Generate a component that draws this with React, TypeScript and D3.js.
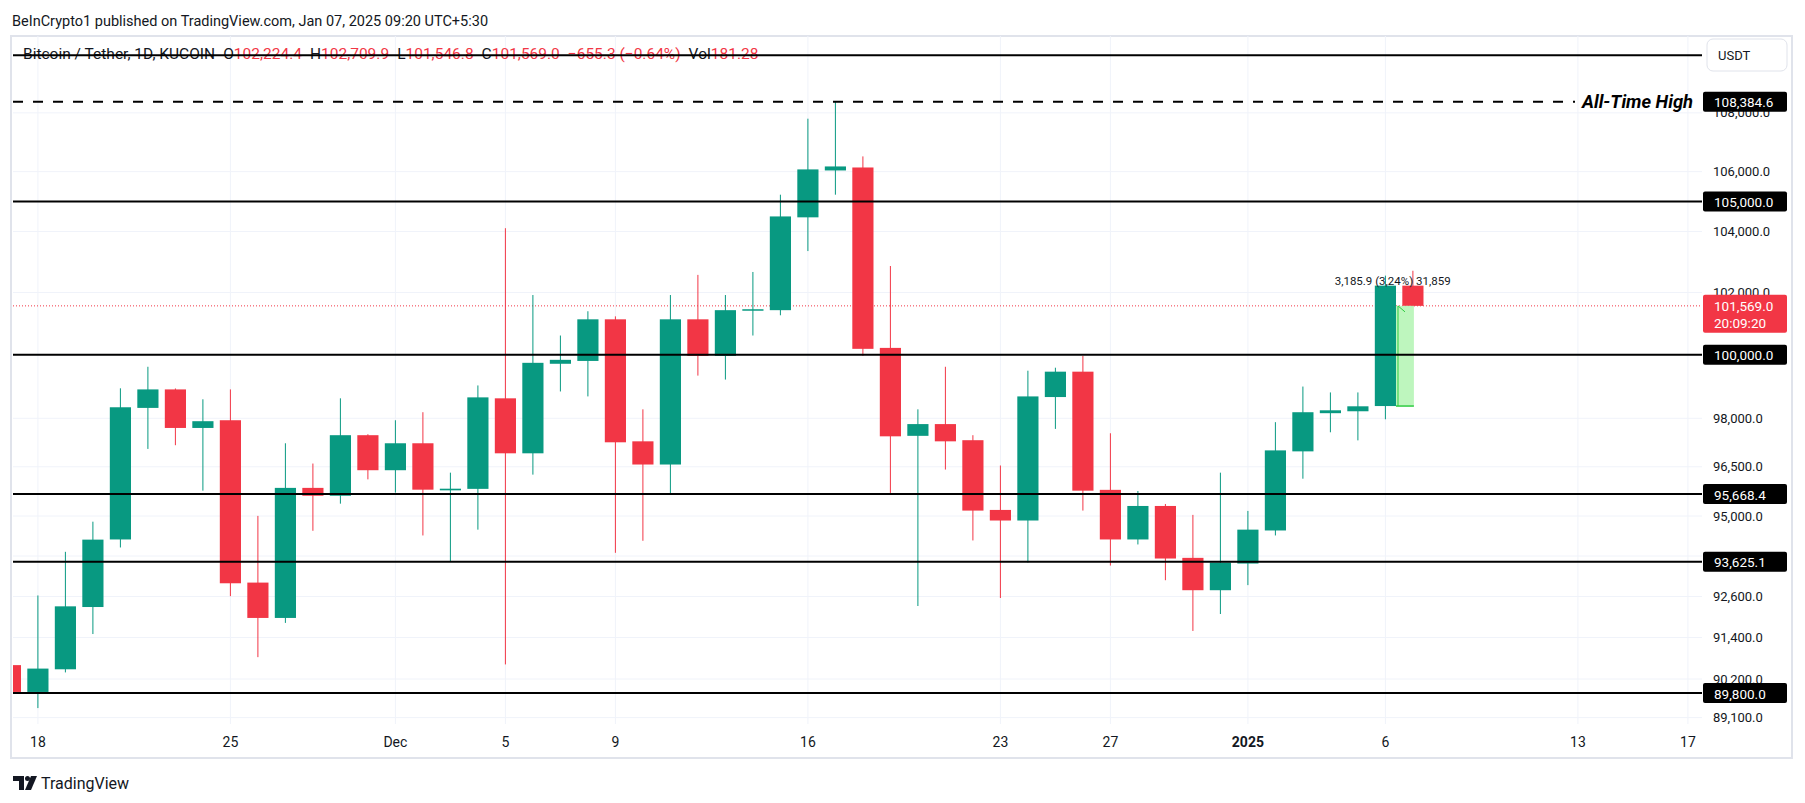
import React from "react";
import * as d3 from "d3";

const W = 1805;
const H = 803;

// daily candles, KUCOIN BTC/USDT
const dates = [
  "2024-11-17", "2024-11-18", "2024-11-19", "2024-11-20", "2024-11-21", "2024-11-22", "2024-11-23",
  "2024-11-24", "2024-11-25", "2024-11-26", "2024-11-27", "2024-11-28", "2024-11-29", "2024-11-30",
  "2024-12-01", "2024-12-02", "2024-12-03", "2024-12-04", "2024-12-05", "2024-12-06", "2024-12-07",
  "2024-12-08", "2024-12-09", "2024-12-10", "2024-12-11", "2024-12-12", "2024-12-13", "2024-12-14",
  "2024-12-15", "2024-12-16", "2024-12-17", "2024-12-18", "2024-12-19", "2024-12-20", "2024-12-21",
  "2024-12-22", "2024-12-23", "2024-12-24", "2024-12-25", "2024-12-26", "2024-12-27", "2024-12-28",
  "2024-12-29", "2024-12-30", "2024-12-31", "2025-01-01", "2025-01-02", "2025-01-03", "2025-01-04",
  "2025-01-05", "2025-01-06", "2025-01-07",
];
const opens = [
  90600, 89830, 90480, 92290, 94295, 98325, 98905,
  97700, 97940, 93010, 91970, 95855, 95615, 97475,
  96395, 97225, 95780, 95825, 98625, 96915, 99715,
  99805, 101135, 97285, 96570, 101135, 99965, 101430,
  101430, 104470, 106040, 106140, 100220, 97455, 97820,
  97320, 95185, 94865, 98665, 99465, 95795, 94295,
  95305, 93745, 92785, 93575, 94565, 96975, 98160,
  98220, 98383.1, 102224.4,
];
const highs = [
  90700, 92630, 93925, 94830, 98940, 99620, 98935,
  98595, 98905, 95005, 97225, 96600, 98625, 97505,
  97940, 98190, 96320, 99030, 104110, 101920, 100615,
  101395, 101230, 98280, 101920, 102575, 101920, 102670,
  105225, 107800, 108384.6, 106515, 102865, 98280, 99620,
  97475, 96540, 99495, 99590, 99965, 97535, 95760,
  95365, 95035, 96320, 95155, 97880, 98995, 98810,
  98810, 102550, 102709.9,
];
const lows = [
  89800, 89370, 90390, 91500, 94055, 97050, 97165,
  95770, 92610, 90830, 91825, 94555, 95375, 96115,
  95710, 94415, 93650, 94590, 90620, 96260, 98840,
  98685, 93895, 94255, 95640, 99340, 99215, 100615,
  101265, 103355, 105225, 99965, 95700, 92320, 96415,
  94265, 92555, 93605, 97670, 95165, 93515, 94145,
  93080, 91590, 92085, 92935, 94415, 96135, 97565,
  97315, 97970, 101546.8,
];
const closes = [
  89830, 90500, 92310, 94290, 98345, 98905, 97700,
  97910, 92990, 91970, 95855, 95615, 97475, 96395,
  97225, 95800, 95830, 98655, 96915, 99745, 99840,
  101135, 97255, 96570, 101135, 99965, 101430, 101460,
  104500, 106075, 106175, 100190, 97440, 97820, 97285,
  95165, 94865, 98685, 99465, 95770, 94295, 95305,
  93725, 92785, 93605, 94590, 97005, 98190, 98250,
  98375, 102224.4, 101569.0,
];

const priceTicks = [108000, 106000, 104000, 102000, 100000, 98000, 96500, 95000, 93800, 92600, 91400, 90200, 89100];
const dateTicks = ["2024-11-18", "2024-11-25", "2024-12-01", "2024-12-05", "2024-12-09", "2024-12-16",
  "2024-12-23", "2024-12-27", "2025-01-01", "2025-01-06", "2025-01-13", "2025-01-17"];
const dateTickLabels = ["18", "25", "Dec", "5", "9", "16", "23", "27", "2025", "6", "13", "17"];

const athPrice = 108384.6;
const levelLines = [110000, 105000, 100000, 95668.4, 93625.1, 89800];
const levelLabels = [108384.6, 105000, 100000, 95668.4, 93625.1, 89800];
const lastPrice = 101569.0;
const countdown = "20:09:20";
const measureLow = 98383.1;
const measureText = "3,185.9 (3,24%) 31,859";

const legendParts = [
  { t: "Bitcoin / Tether, 1D, KUCOIN", red: false, dx: 0 },
  { t: "O", red: false, dx: 8 },
  { t: "102,224.4", red: true, dx: 0 },
  { t: "H", red: false, dx: 8 },
  { t: "102,709.9", red: true, dx: 0 },
  { t: "L", red: false, dx: 8 },
  { t: "101,546.8", red: true, dx: 0 },
  { t: "C", red: false, dx: 8 },
  { t: "101,569.0", red: true, dx: 0 },
  { t: "\u2212655.3 (\u22120.64%)", red: true, dx: 8 },
  { t: "Vol", red: false, dx: 8 },
  { t: "181.28", red: true, dx: 0 },
];

const GREEN = "#089981";
const RED = "#f23645";
const INK = "#131722";
const GRID = "#f0f3fa";
const FONT = "Roboto, sans-serif";

const plot = { left: 13, right: 1702, top: 36, bottom: 724 };

const fmt = d3.format(",.1f");
const parse = (s: string) => new Date(s + "T00:00:00Z");

export default function App() {
  const x = d3.scaleUtc()
    .domain([parse("2024-11-18"), parse("2025-01-17")])
    .range([37.9, 1687.9]);
  const y = d3.scaleLog().domain([89800, athPrice]).range([693, 101.7]);

  const dayW = x(parse("2024-11-19")) - x(parse("2024-11-18"));
  const bodyW = dayW * 0.77;

  const candles = dates.map((d, i) => ({
    x: x(parse(d)), o: opens[i], h: highs[i], l: lows[i], c: closes[i],
  }));

  const jan6 = x(parse("2025-01-06"));
  const jan7 = x(parse("2025-01-07"));
  const mx0 = jan6 + bodyW / 2;
  const mx1 = jan7 + 1;
  const mTop = y(lastPrice);
  const mBot = y(measureLow);

  return (
    <svg width={W} height={H} style={{ position: "absolute", left: 0, top: 0, background: "#fff" }} fontFamily={FONT}>
      <defs>
        <clipPath id="plotClip">
          <rect x={plot.left} y={plot.top} width={plot.right - plot.left} height={plot.bottom - plot.top} />
        </clipPath>
      </defs>
      <rect width={W} height={H} fill="#fff" />

      <text x={12} y={21} fontSize={14.5} fill={INK} dominantBaseline="central">
        BeInCrypto1 published on TradingView.com, Jan 07, 2025 09:20 UTC+5:30
      </text>

      {/* frame */}
      <rect x={11} y={plot.top} width={1781} height={758 - plot.top} fill="none" stroke="#e0e3eb" strokeWidth={2} />

      {/* grid */}
      {dateTicks.map((d) => (
        <line key={d} x1={x(parse(d))} x2={x(parse(d))} y1={plot.top} y2={plot.bottom} stroke={GRID} strokeWidth={1} />
      ))}
      {priceTicks.map((p) => (
        <line key={p} x1={plot.left} x2={plot.right} y1={y(p)} y2={y(p)} stroke={GRID} strokeWidth={1} />
      ))}

      {/* legend */}
      <text x={23} y={54} fontSize={15.5} dominantBaseline="central">
        {legendParts.map((p, i) => (
          <tspan key={i} dx={p.dx} fill={p.red ? RED : INK}>{p.t}</tspan>
        ))}
      </text>

      {/* last price dotted line */}
      <line x1={plot.left} x2={plot.right} y1={y(lastPrice)} y2={y(lastPrice)} stroke={RED} strokeWidth={1} strokeDasharray="1 2" />

      {/* candles */}
      <g clipPath="url(#plotClip)">
        {candles.map((k, i) => {
          const col = k.c >= k.o ? GREEN : RED;
          const top = y(Math.max(k.o, k.c));
          const bot = y(Math.min(k.o, k.c));
          return (
            <g key={i}>
              <line x1={k.x} x2={k.x} y1={y(k.h)} y2={y(k.l)} stroke={col} strokeWidth={1} />
              <rect x={k.x - bodyW / 2} y={top} width={bodyW} height={Math.max(1.5, bot - top)} fill={col} />
            </g>
          );
        })}
      </g>

      {/* measure tool */}
      <rect x={mx0} y={mTop} width={mx1 - mx0} height={mBot - mTop} fill="#b7f5b7" opacity={0.9} />
      <line x1={mx0 + 2} x2={mx0 + 2} y1={mBot} y2={mTop} stroke="#2ecc40" strokeWidth={1} />
      <line x1={mx0 + 2} x2={mx0 + 9} y1={mTop} y2={mTop + 6} stroke="#2ecc40" strokeWidth={1} />
      <line x1={mx0} x2={mx1} y1={mBot} y2={mBot} stroke="#2ecc40" strokeWidth={1.5} />
      <text x={(mx0 + jan6) / 2 + 2} y={281} fontSize={11.5} fill={INK} textAnchor="middle" dominantBaseline="central">
        {measureText}
      </text>

      {/* horizontal levels */}
      {levelLines.map((p) => (
        <line key={p} x1={plot.left} x2={plot.right} y1={y(p)} y2={y(p)} stroke="#000" strokeWidth={2} />
      ))}
      <line x1={plot.left} x2={1575} y1={y(athPrice)} y2={y(athPrice)} stroke="#000" strokeWidth={2} strokeDasharray="10 10" />
      <text x={1582} y={y(athPrice)} fontSize={17.5} fontWeight="bold" fontStyle="italic" fill="#000" dominantBaseline="central"
        textLength={111} lengthAdjust="spacingAndGlyphs">
        All-Time High
      </text>

      {/* price axis */}
      <rect x={1707} y={39} width={80} height={32} rx={6} fill="#fff" stroke="#e0e3eb" />
      <text x={1718} y={55} fontSize={13} fill={INK} dominantBaseline="central">USDT</text>
      {priceTicks.map((p) => (
        <text key={p} x={1713} y={y(p)} fontSize={13} fill={INK} dominantBaseline="central">{fmt(p)}</text>
      ))}
      {levelLabels.map((p) => (
        <g key={p}>
          <rect x={1703} y={y(p) - 10} width={84} height={20} rx={2} fill="#000" />
          <text x={1714} y={y(p) + 0.5} fontSize={13.5} fill="#fff" dominantBaseline="central">{fmt(p)}</text>
        </g>
      ))}
      <rect x={1703} y={y(lastPrice) - 11} width={84} height={38} rx={2} fill={RED} />
      <text x={1714} y={y(lastPrice)} fontSize={13.5} fill="#fff" dominantBaseline="central">{fmt(lastPrice)}</text>
      <text x={1714} y={y(lastPrice) + 17} fontSize={13.5} fill="#fff" dominantBaseline="central">{countdown}</text>

      {/* time axis */}
      {dateTicks.map((d, i) => (
        <text key={d} x={x(parse(d))} y={742} fontSize={14} fill={INK} textAnchor="middle" dominantBaseline="central"
          fontWeight={dateTickLabels[i] === "2025" ? "bold" : "normal"}>
          {dateTickLabels[i]}
        </text>
      ))}

      {/* footer logo */}
      <g fill={INK}>
        <path d="M13 776 h11 v14 h-5 v-9 h-6 z" />
        <circle cx={27.5} cy={778.5} r={2.5} />
        <path d="M31 776 h6 l-6 14 h-6 z" />
      </g>
      <text x={41} y={783} fontSize={16} fill={INK} dominantBaseline="central">TradingView</text>
    </svg>
  );
}
